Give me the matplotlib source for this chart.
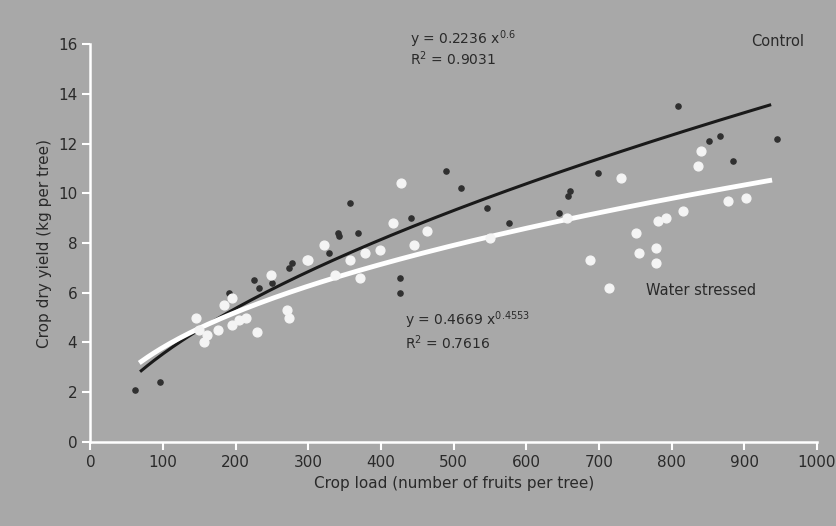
import numpy as np
import matplotlib
matplotlib.use("Agg")
import matplotlib.pyplot as plt

# ---- data ----
control_x = [61, 96, 191, 225, 232, 250, 273, 277, 300, 328, 341, 342, 358, 369,
             426, 426, 441, 489, 510, 546, 576, 645, 658, 660, 699, 809, 851, 867,
             885, 945]
control_y = [2.1, 2.4, 6.0, 6.5, 6.2, 6.4, 7.0, 7.2, 7.3, 7.6, 8.4, 8.3, 9.6, 8.4,
             6.6, 6.0, 9.0, 10.9, 10.2, 9.4, 8.8, 9.2, 9.9, 10.1, 10.8, 13.5, 12.1, 12.3,
             11.3, 12.2]

stress_x = [146, 150, 157, 160, 175, 184, 195, 195, 205, 214, 229, 249, 270, 273,
            298, 300, 321, 337, 358, 371, 378, 399, 417, 428, 446, 464, 550, 656,
            687, 714, 731, 751, 755, 779, 779, 781, 792, 816, 837, 840, 877, 902]
stress_y = [5.0, 4.5, 4.0, 4.3, 4.5, 5.5, 5.8, 4.7, 4.9, 5.0, 4.4, 6.7, 5.3, 5.0,
            7.3, 7.3, 7.9, 6.7, 7.3, 6.6, 7.6, 7.7, 8.8, 10.4, 7.9, 8.5, 8.2, 9.0,
            7.3, 6.2, 10.6, 8.4, 7.6, 7.8, 7.2, 8.9, 9.0, 9.3, 11.1, 11.7, 9.7, 9.8]

# power fits as printed on the chart
ctrl_a, ctrl_b = 0.2236, 0.6
ws_a, ws_b = 0.4669, 0.4553
fit_range = (70, 935)

bg = "#a8a8a8"
fig = plt.figure(figsize=(8.37, 5.26), dpi=100, facecolor=bg)
ax = fig.add_axes([0.108, 0.160, 0.868, 0.756], facecolor=bg)

xf = np.linspace(fit_range[0], fit_range[1], 200)
ax.plot(xf, ctrl_a * xf ** ctrl_b, color="#1a1a1a", lw=2.2, zorder=3)
ax.plot(xf, ws_a * xf ** ws_b, color="white", lw=3.5, zorder=3)

ax.scatter(control_x, control_y, s=14, color="#303030", zorder=4)
ax.scatter(stress_x, stress_y, s=40, color="#f4f4f4", zorder=4)

ax.set_xlim(0, 1000)
ax.set_ylim(0, 16)
ax.set_xticks(np.arange(0, 1001, 100))
ax.set_yticks(np.arange(0, 17, 2))

for s in ["top", "right"]:
    ax.spines[s].set_visible(False)
for s in ["left", "bottom"]:
    ax.spines[s].set_color("white")
    ax.spines[s].set_linewidth(1.8)
ax.tick_params(colors="white", width=1.5, length=6, direction="out",
               labelcolor="#2a2a2a", labelsize=11)

ax.set_xlabel("Crop load (number of fruits per tree)", fontsize=11, color="#2a2a2a")
ax.set_ylabel("Crop dry yield (kg per tree)", fontsize=11, color="#2a2a2a")

tc = "#2a2a2a"
ax.text(440, 16.2, "y = 0.2236 x$^{0.6}$", fontsize=10, color=tc, va="center")
ax.text(440, 15.4, "R$^2$ = 0.9031", fontsize=10, color=tc, va="center")
ax.text(982, 16.1, "Control", fontsize=10.5, color=tc, va="center", ha="right")
ax.text(765, 6.1, "Water stressed", fontsize=10.5, color=tc, va="center")
ax.text(433, 4.9, "y = 0.4669 x$^{0.4553}$", fontsize=10, color=tc, va="center")
ax.text(433, 4.0, "R$^2$ = 0.7616", fontsize=10, color=tc, va="center")

fig.savefig("out.png", dpi=100, facecolor=bg)
